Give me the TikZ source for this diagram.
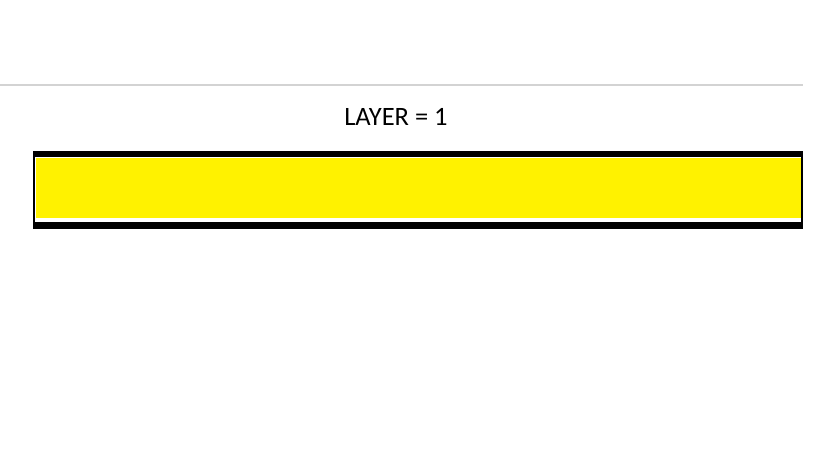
\documentclass[tikz,border=0pt]{standalone}
\usepackage{fontspec}
\setmainfont{Carlito}
\usetikzlibrary{positioning}
\definecolor{layeryellow}{RGB}{255,242,0}
\definecolor{rulegray}{RGB}{211,211,211}

\begin{document}
\begin{tikzpicture}[
    x=1pt, y=-1pt,
    frame/.style={rectangle, fill=black, inner sep=0pt, minimum width=770pt, minimum height=78pt},
    gap/.style={rectangle, fill=white, inner sep=0pt, minimum width=766pt, minimum height=65pt},
    layer/.style={rectangle, fill=layeryellow, inner sep=0pt, minimum width=764.5pt, minimum height=60pt},
    label/.style={font=\fontsize{26.5}{30}\selectfont, inner sep=0pt}
]
\useasboundingbox (0,0) rectangle (833,460);

% Separator rule
\coordinate (ruleL) at (0,85);
\coordinate (ruleR) at (803,85);
\draw[rulegray, line width=2pt] (ruleL) -- (ruleR);

% Caption
\node[label] (caption) at (396,117) {LAYER = 1};

% Layer bar
\node[frame] (bar) at (418,190) {};
\node[gap] (gapbox) at (418,189.5) {};
\node[layer] (fill) at (418.25,188) {};

\end{tikzpicture}
\end{document}
